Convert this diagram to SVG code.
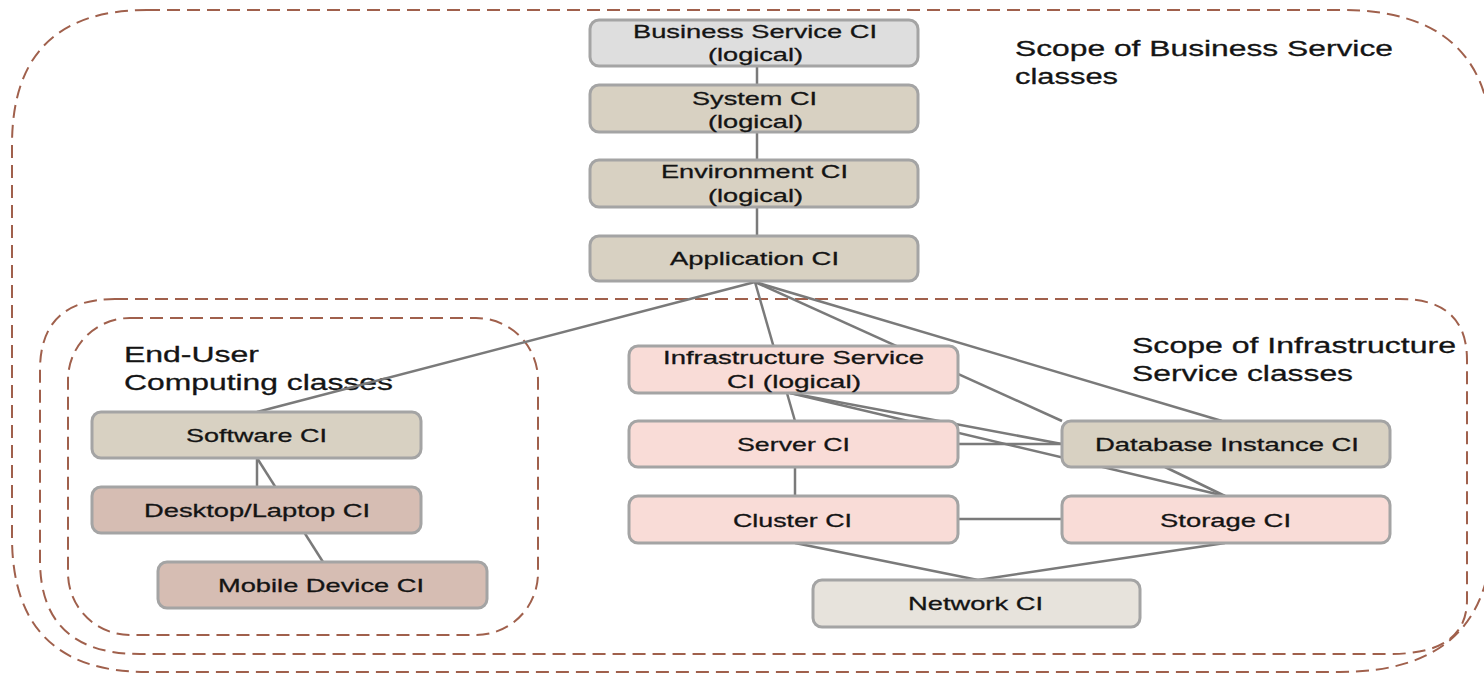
<svg xmlns="http://www.w3.org/2000/svg" width="1484" height="675" viewBox="0 0 1484 675">
<style>
.n{stroke:#a4a4a4;stroke-width:3}
.gray{fill:#dedede}
.tan{fill:#d8d1c2}
.brown{fill:#d6bdb3}
.pink{fill:#f9dcd7}
.net{fill:#e7e3dc}
.t{font-family:"Liberation Sans",Arial,sans-serif;font-size:19px;fill:#141414;stroke:#141414;stroke-width:0.3}
.s{font-size:22px}
.c{stroke:#7a7a7a;stroke-width:2.5;fill:none}
.r{fill:none;stroke:#a0604c;stroke-width:2;stroke-dasharray:13 7}
</style>
<rect width="1484" height="675" fill="#ffffff"/>
<g id="regions">
<path class="r" d="M147,10 H1342 Q1492,10 1492,150 V530 Q1492,672 1340,672 H147 Q12,672 12,537 V145 Q12,10 147,10 Z"/>
<path class="r" d="M115,299 H1400 Q1467,299 1467,360 V600 Q1467,654 1390,654 H140 Q40,654 40,560 V370 Q40,299 115,299 Z"/>
<rect class="r" x="68" y="318" width="470" height="317" rx="62" ry="62"/>
<text class="t s" x="1015" y="56" textLength="378" lengthAdjust="spacingAndGlyphs">Scope of Business Service</text>
<text class="t s" x="1015" y="84" textLength="103" lengthAdjust="spacingAndGlyphs">classes</text>
<text class="t s" x="124" y="362" textLength="135" lengthAdjust="spacingAndGlyphs">End-User</text>
<text class="t s" x="124" y="390" textLength="269" lengthAdjust="spacingAndGlyphs">Computing classes</text>
<text class="t s" x="1132" y="353" textLength="324" lengthAdjust="spacingAndGlyphs">Scope of Infrastructure</text>
<text class="t s" x="1132" y="381" textLength="221" lengthAdjust="spacingAndGlyphs">Service classes</text>
</g>
<g id="connectors">
<line class="c" x1="757" y1="66" x2="757" y2="85"/>
<line class="c" x1="757" y1="132" x2="757" y2="160"/>
<line class="c" x1="757" y1="207" x2="757" y2="236"/>
<line class="c" x1="755" y1="282" x2="257" y2="412"/>
<line class="c" x1="755" y1="282" x2="795" y2="421"/>
<line class="c" x1="755" y1="282" x2="1062" y2="421"/>
<line class="c" x1="755" y1="282" x2="1222" y2="421"/>
<line class="c" x1="790" y1="393" x2="1062" y2="444"/>
<line class="c" x1="790" y1="393" x2="1225" y2="496"/>
<line class="c" x1="958" y1="444" x2="1062" y2="444"/>
<line class="c" x1="1165" y1="467" x2="1225" y2="496"/>
<line class="c" x1="795" y1="467" x2="795" y2="496"/>
<line class="c" x1="958" y1="519" x2="1062" y2="519"/>
<line class="c" x1="795" y1="543" x2="978" y2="580"/>
<line class="c" x1="1225" y1="543" x2="978" y2="580"/>
<line class="c" x1="257" y1="458" x2="257" y2="487"/>
<line class="c" x1="257" y1="458" x2="323" y2="562"/>
</g>
<g id="business-service">
<rect class="n gray" x="590" y="20" width="328" height="46" rx="9"/>
<text class="t" x="633" y="38" textLength="244" lengthAdjust="spacingAndGlyphs">Business Service CI</text>
<text class="t" x="708" y="61" textLength="95" lengthAdjust="spacingAndGlyphs">(logical)</text>
</g>
<g id="system">
<rect class="n tan" x="590" y="85" width="328" height="47" rx="9"/>
<text class="t" x="692" y="105" textLength="125" lengthAdjust="spacingAndGlyphs">System CI</text>
<text class="t" x="708" y="128" textLength="95" lengthAdjust="spacingAndGlyphs">(logical)</text>
</g>
<g id="environment">
<rect class="n tan" x="590" y="160" width="328" height="47" rx="9"/>
<text class="t" x="661" y="178" textLength="187" lengthAdjust="spacingAndGlyphs">Environment CI</text>
<text class="t" x="708" y="202" textLength="95" lengthAdjust="spacingAndGlyphs">(logical)</text>
</g>
<g id="application">
<rect class="n tan" x="590" y="236" width="328" height="45" rx="9"/>
<text class="t" x="670" y="265" textLength="169" lengthAdjust="spacingAndGlyphs">Application CI</text>
</g>
<g id="software">
<rect class="n tan" x="92" y="412" width="329" height="46" rx="9"/>
<text class="t" x="186" y="442" textLength="141" lengthAdjust="spacingAndGlyphs">Software CI</text>
</g>
<g id="desktop">
<rect class="n brown" x="92" y="487" width="329" height="46" rx="9"/>
<text class="t" x="144" y="517" textLength="226" lengthAdjust="spacingAndGlyphs">Desktop/Laptop CI</text>
</g>
<g id="mobile">
<rect class="n brown" x="158" y="562" width="329" height="46" rx="9"/>
<text class="t" x="218" y="592" textLength="206" lengthAdjust="spacingAndGlyphs">Mobile Device CI</text>
</g>
<g id="infrastructure-service">
<rect class="n pink" x="629" y="346" width="329" height="47" rx="9"/>
<text class="t" x="663" y="364" textLength="261" lengthAdjust="spacingAndGlyphs">Infrastructure Service</text>
<text class="t" x="727" y="388" textLength="134" lengthAdjust="spacingAndGlyphs">CI (logical)</text>
</g>
<g id="server">
<rect class="n pink" x="629" y="421" width="329" height="46" rx="9"/>
<text class="t" x="737" y="451" textLength="113" lengthAdjust="spacingAndGlyphs">Server CI</text>
</g>
<g id="cluster">
<rect class="n pink" x="629" y="496" width="329" height="47" rx="9"/>
<text class="t" x="733" y="527" textLength="119" lengthAdjust="spacingAndGlyphs">Cluster CI</text>
</g>
<g id="database">
<rect class="n tan" x="1062" y="421" width="328" height="46" rx="9"/>
<text class="t" x="1095" y="451" textLength="264" lengthAdjust="spacingAndGlyphs">Database Instance CI</text>
</g>
<g id="storage">
<rect class="n pink" x="1062" y="496" width="328" height="47" rx="9"/>
<text class="t" x="1160" y="527" textLength="131" lengthAdjust="spacingAndGlyphs">Storage CI</text>
</g>
<g id="network">
<rect class="n net" x="813" y="580" width="327" height="47" rx="9"/>
<text class="t" x="908" y="610" textLength="135" lengthAdjust="spacingAndGlyphs">Network CI</text>
</g>
</svg>
